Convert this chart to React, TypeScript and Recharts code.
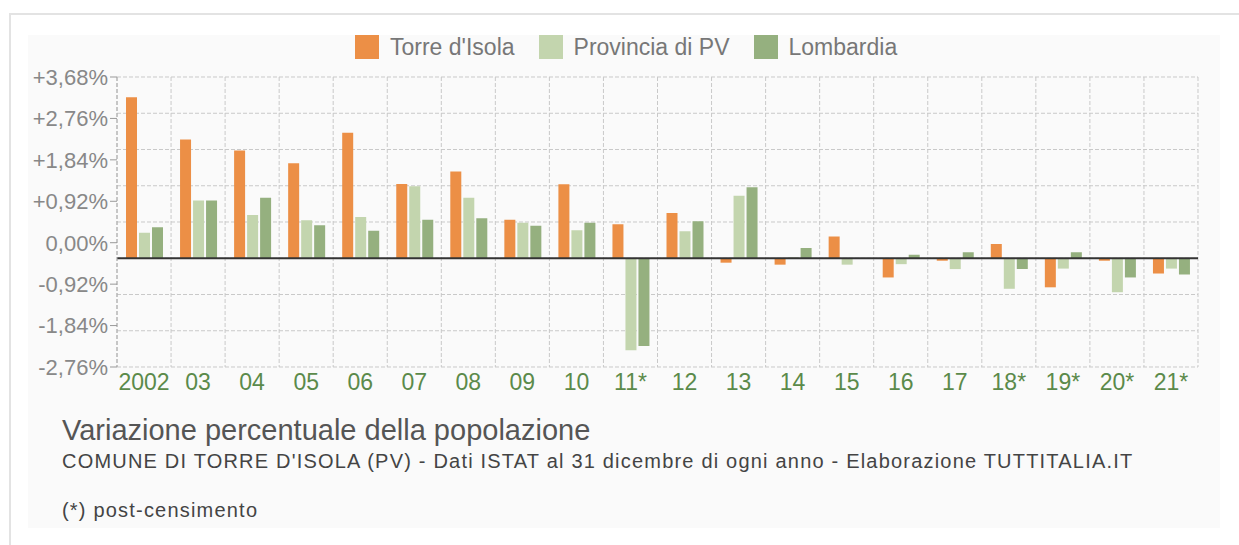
import React from "react";
import { BarChart, Bar, XAxis, YAxis, CartesianGrid, ReferenceLine } from "recharts";

const years = ["2002", "03", "04", "05", "06", "07", "08", "09", "10", "11*", "12", "13", "14", "15", "16", "17", "18*", "19*", "20*", "21*"];
const torre = [3.27, 2.41, 2.19, 1.93, 2.55, 1.51, 1.76, 0.78, 1.5, 0.69, 0.92, -0.09, -0.13, 0.44, -0.39, -0.05, 0.29, -0.59, -0.05, -0.31];
const provincia = [0.52, 1.17, 0.88, 0.77, 0.84, 1.46, 1.23, 0.72, 0.57, -1.87, 0.55, 1.27, 0.02, -0.13, -0.12, -0.22, -0.62, -0.21, -0.69, -0.21];
const lombardia = [0.63, 1.17, 1.23, 0.67, 0.56, 0.78, 0.81, 0.66, 0.72, -1.78, 0.75, 1.44, 0.21, 0.0, 0.07, 0.12, -0.22, 0.12, -0.39, -0.33];

const yTickLabels = ["+3,68%", "+2,76%", "+1,84%", "+0,92%", "0,00%", "-0,92%", "-1,84%", "-2,76%"];
const gridValues = [3.68, 2.944, 2.208, 1.472, 0.736, 0, -0.736, -1.472, -2.208];
const yMax = 3.68;
const yMin = -2.208;

const seriesNames = ["Torre d'Isola", "Provincia di PV", "Lombardia"];
const colors = ["#EC8F46", "#C3D5AE", "#95B07F"];

const data = years.map((y, i) => ({ year: y, torre: torre[i], provincia: provincia[i], lombardia: lombardia[i] }));
const yTickValues = yTickLabels.map((_, i) => yMax - (i * (yMax - yMin)) / (yTickLabels.length - 1));

const FONT = "'Liberation Sans', Arial, Helvetica, sans-serif";

export default function App() {
  return (
    <div style={{ position: "absolute", left: 0, top: 0, width: 1239, height: 545, background: "#fff", overflow: "hidden", fontFamily: FONT }}>
      <div style={{ position: "absolute", left: 9, top: 13, width: 1240, height: 540, borderTop: "2px solid #e3e3e3", borderLeft: "2px solid #e3e3e3" }} />
      <div style={{ position: "absolute", left: 28, top: 35, width: 1192, height: 493, background: "#fafafa" }} />
      <div style={{ position: "absolute", left: 0, top: 0 }}>
        <BarChart
          width={1239}
          height={545}
          data={data}
          margin={{ top: 77, right: 41, bottom: 148, left: 0 }}
          barGap={2}
          barSize={11}
        >
          <CartesianGrid
            stroke="#c9c9c9"
            strokeDasharray="4 2"
            horizontalCoordinatesGenerator={({ offset }: any) =>
              gridValues.map((v) => offset.top + ((yMax - v) / (yMax - yMin)) * offset.height)
            }
            verticalCoordinatesGenerator={({ offset }: any) =>
              Array.from({ length: years.length + 1 }, (_, i) => offset.left + (i * offset.width) / years.length)
            }
          />
          <XAxis
            dataKey="year"
            height={30}
            interval={0}
            tickLine={false}
            axisLine={false}
            tickSize={6}
            tickMargin={1}
            tick={{ fill: "#5B8A4A", fontSize: 23, fontFamily: FONT }}
          />
          <YAxis
            type="number"
            domain={[yMin, yMax]}
            allowDataOverflow
            ticks={yTickValues}
            interval={0}
            width={117}
            tickSize={7}
            tickMargin={2}
            tickLine={{ stroke: "#999" }}
            axisLine={{ stroke: "#aaa", strokeDasharray: "4 2" }}
            tickFormatter={(_: any, i: number) => yTickLabels[i]}
            tick={{ fill: "#888", fontSize: 22, fontFamily: FONT }}
          />
          <Bar dataKey="torre" name={seriesNames[0]} fill={colors[0]} isAnimationActive={false} />
          <Bar dataKey="provincia" name={seriesNames[1]} fill={colors[1]} isAnimationActive={false} />
          <Bar dataKey="lombardia" name={seriesNames[2]} fill={colors[2]} isAnimationActive={false} />
          <ReferenceLine y={0} stroke="#333" strokeWidth={2} />
        </BarChart>
      </div>
      <div style={{ position: "absolute", left: 355, top: 35, display: "flex", alignItems: "center", height: 24 }}>
        {seriesNames.map((n, i) => (
          <div key={n} style={{ display: "flex", alignItems: "center", marginRight: 24 }}>
            <div style={{ width: 24, height: 24, background: colors[i], marginRight: 11 }} />
            <span style={{ fontSize: 23, color: "#777", lineHeight: "24px" }}>{n}</span>
          </div>
        ))}
      </div>
      <div style={{ position: "absolute", left: 62, top: 415.5, fontSize: 29, lineHeight: "29px", color: "#555", whiteSpace: "nowrap" }}>
        Variazione percentuale della popolazione
      </div>
      <div style={{ position: "absolute", left: 62, top: 451.4, fontSize: 20, lineHeight: "20px", letterSpacing: 1.2, color: "#444", whiteSpace: "nowrap" }}>
        COMUNE DI TORRE D'ISOLA (PV) - Dati ISTAT al 31 dicembre di ogni anno - Elaborazione TUTTITALIA.IT
      </div>
      <div style={{ position: "absolute", left: 62, top: 499.8, fontSize: 20, lineHeight: "20px", letterSpacing: 1.2, color: "#444", whiteSpace: "nowrap" }}>
        (*) post-censimento
      </div>
    </div>
  );
}
